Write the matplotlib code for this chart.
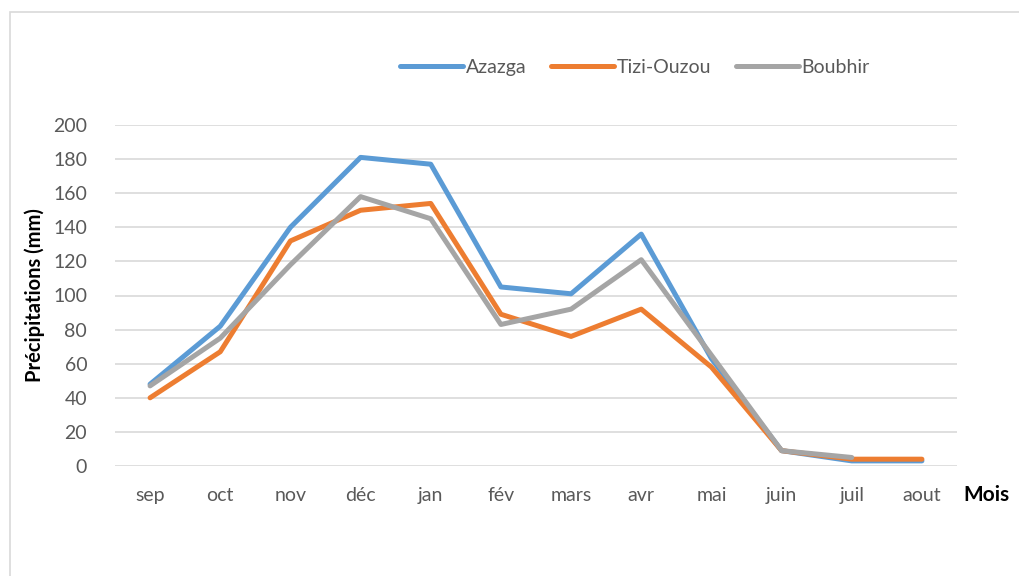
import numpy as np
import matplotlib.pyplot as plt
from matplotlib.patches import Rectangle

# donnees
mois = ['sep', 'oct', 'nov', 'déc', 'jan', 'fév', 'mars', 'avr', 'mai', 'juin', 'juil', 'aout']
azazga = [48, 82, 140, 181, 177, 105, 101, 136, 63, 9, 3, 3]
tizi = [40, 67, 132, 150, 154, 89, 76, 92, 58, 9, 4, 4]
boubhir = [47, 75, 118, 158, 145, 83, 92, 121, 65, 9, 5]

plt.rcParams['font.family'] = ['Lato', 'DejaVu Sans']

fig = plt.figure(figsize=(10.2, 5.76), dpi=100)
ax = fig.add_axes([115/1020, 1-466/576, 842/1020, 341/576])

# cadre gris du graphique
fig.patches.append(Rectangle((10/1020, -0.1), 1.1, 1-12/576+0.1, transform=fig.transFigure,
                             fill=False, edgecolor='#D9D9D9', linewidth=1.2))

x = np.arange(len(mois))
ax.plot(x, azazga, color='#5B9BD5', linewidth=3.6, label='Azazga', solid_capstyle='round')
ax.plot(x, tizi, color='#ED7D31', linewidth=3.6, label='Tizi-Ouzou', solid_capstyle='round')
ax.plot(x[:len(boubhir)], boubhir, color='#A5A5A5', linewidth=3.6, label='Boubhir', solid_capstyle='round')

ax.set_xlim(-0.5, len(mois) - 0.5)
ax.set_ylim(0, 200)
ax.set_yticks(range(0, 201, 20))
ax.set_xticks(x)
ax.set_xticklabels(mois)
ax.grid(axis='y', color='#D9D9D9', linewidth=1.2)
ax.set_axisbelow(True)
for s in ax.spines.values():
    s.set_visible(False)
ax.tick_params(length=0, labelsize=14, labelcolor='#595959')
ax.tick_params(axis='x', pad=15)
ax.tick_params(axis='y', pad=20)

ax.set_ylabel('Précipitations (mm)', fontsize=14.5, fontweight='bold', color='black', labelpad=6)
fig.text(986/1020, 1-495/576, 'Mois', fontsize=15, fontweight='bold', ha='center', va='center')

fig.legend(loc='center', bbox_to_anchor=(635/1020, 1-67/576), ncol=3, frameon=False,
           fontsize=14, labelcolor='#595959', handlelength=3.2, handletextpad=0.15, columnspacing=1.3)

plt.savefig('out.png', dpi=100)
